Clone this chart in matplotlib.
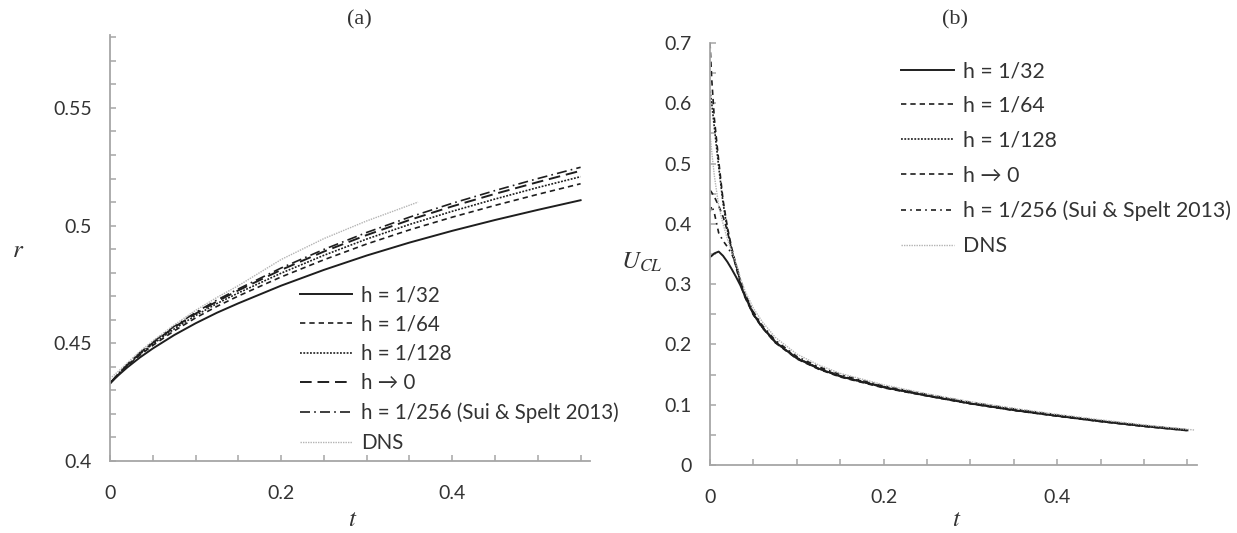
import matplotlib
matplotlib.use("Agg")
import matplotlib.pyplot as plt
import numpy as np

# ---------------- data (a): r(t) ----------------
t_a = [0, 0.01, 0.02, 0.035, 0.05, 0.075, 0.1, 0.125, 0.15, 0.2, 0.25, 0.3, 0.35, 0.4, 0.45, 0.5, 0.55]
r_h32 = [0.433, 0.4365, 0.4397, 0.444, 0.4478, 0.4535, 0.4585, 0.463, 0.467, 0.4745, 0.4812, 0.4873, 0.4928, 0.4978, 0.5024, 0.5067, 0.5108]
r_h64 = [0.433, 0.4368, 0.4403, 0.445, 0.4491, 0.4553, 0.4608, 0.4657, 0.4701, 0.4782, 0.4855, 0.4922, 0.4982, 0.5036, 0.5086, 0.5133, 0.5178]
r_h128 = [0.433, 0.437, 0.4406, 0.4454, 0.4497, 0.4561, 0.4618, 0.4669, 0.4714, 0.4798, 0.4874, 0.4943, 0.5005, 0.5061, 0.5113, 0.5162, 0.5208]
r_h0 = [0.433, 0.4371, 0.4408, 0.4458, 0.4502, 0.4568, 0.4626, 0.4678, 0.4725, 0.4812, 0.489, 0.496, 0.5024, 0.5082, 0.5135, 0.5185, 0.5233]
r_h256 = [0.433, 0.4371, 0.4409, 0.446, 0.4505, 0.4572, 0.4631, 0.4684, 0.4731, 0.482, 0.4899, 0.4971, 0.5036, 0.5095, 0.5149, 0.52, 0.5248]
t_dns_a = [0, 0.01, 0.02, 0.035, 0.05, 0.075, 0.1, 0.125, 0.15, 0.2, 0.25, 0.3, 0.36]
r_dns = [0.435, 0.4382, 0.4416, 0.4466, 0.451, 0.4578, 0.464, 0.4695, 0.4745, 0.4856, 0.4945, 0.5020, 0.510]

# ---------------- data (b): U_CL(t) ----------------
t_b = [0, 0.002, 0.005, 0.01, 0.015, 0.02, 0.025, 0.03, 0.035, 0.04, 0.05, 0.06, 0.075,
       0.1, 0.125, 0.15, 0.2, 0.25, 0.3, 0.35, 0.4, 0.45, 0.5, 0.55]
u_h32 = [0.345, 0.347, 0.351, 0.354, 0.347, 0.337, 0.325, 0.312, 0.298, 0.281, 0.250, 0.229, 0.204,
         0.177, 0.160, 0.147, 0.129, 0.115, 0.102, 0.091, 0.0815, 0.0725, 0.0645, 0.0575]
u_h64 = [0.456, 0.452, 0.445, 0.430, 0.412, 0.388, 0.356, 0.328, 0.301, 0.279, 0.249, 0.228, 0.203,
         0.176, 0.159, 0.146, 0.128, 0.1145, 0.1015, 0.0905, 0.081, 0.072, 0.064, 0.057]
u_h128 = [0.620, 0.600, 0.560, 0.495, 0.435, 0.390, 0.357, 0.330, 0.303, 0.281, 0.250, 0.229, 0.204,
          0.177, 0.160, 0.147, 0.129, 0.115, 0.102, 0.091, 0.0815, 0.0725, 0.0645, 0.0575]
u_h0 = [0.700, 0.640, 0.575, 0.505, 0.440, 0.395, 0.360, 0.332, 0.305, 0.283, 0.252, 0.230, 0.205,
        0.178, 0.161, 0.148, 0.130, 0.116, 0.103, 0.092, 0.082, 0.073, 0.065, 0.058]
u_h256 = [0.420, 0.430, 0.418, 0.385, 0.372, 0.362, 0.350, 0.334, 0.307, 0.285, 0.254, 0.232, 0.207,
          0.180, 0.163, 0.150, 0.131, 0.117, 0.104, 0.093, 0.083, 0.0735, 0.0655, 0.0585]
t_dns_b = [0, 0.002, 0.005, 0.01, 0.015, 0.02, 0.025, 0.03, 0.035, 0.04, 0.05, 0.06, 0.075,
           0.1, 0.125, 0.15, 0.2, 0.25, 0.3, 0.35, 0.4, 0.45, 0.5, 0.558]
u_dns = [0.550, 0.520, 0.480, 0.430, 0.400, 0.375, 0.355, 0.335, 0.310, 0.290, 0.260, 0.238, 0.212,
         0.184, 0.166, 0.152, 0.133, 0.118, 0.105, 0.094, 0.084, 0.075, 0.0665, 0.058]

labels = ["h = 1/32", "h = 1/64", "h = 1/128", "h \u2192 0", "h = 1/256 (Sui & Spelt 2013)", "DNS"]
xticks = [0, 0.2, 0.4]
xtick_labels = ["0", "0.2", "0.4"]
yticks_a = [0.4, 0.45, 0.5, 0.55]
ytick_labels_a = ["0.4", "0.45", "0.5", "0.55"]
yticks_b = [0, 0.1, 0.2, 0.3, 0.4, 0.5, 0.6, 0.7]
ytick_labels_b = ["0", "0.1", "0.2", "0.3", "0.4", "0.5", "0.6", "0.7"]

# ---------------- figure ----------------
W, H = 1237, 533
plt.rcParams["mathtext.fontset"] = "stix"
fig = plt.figure(figsize=(W / 100, H / 100), dpi=100)
FONT = ["Lato", "DejaVu Sans"]
LINE = "#1e1e1e"
SPINE = "#a6a6a6"
TXT = "#333333"

def px(x0, y0, x1, y1):
    return [x0 / W, 1 - y1 / H, (x1 - x0) / W, (y1 - y0) / H]

ax_a = fig.add_axes(px(110, 35, 590, 461))
ax_b = fig.add_axes(px(710, 43, 1197, 465))

ls_h64 = (0, (3.2, 2.4))
ls_h128 = (0, (1.1, 0.9))
ls_dns = (0, (1.0, 0.8))

# (a)
ax_a.plot(t_a, r_h32, color=LINE, lw=1.4, ls="-", label=labels[0])
ax_a.plot(t_a, r_h64, color=LINE, lw=1.2, ls=ls_h64, label=labels[1])
ax_a.plot(t_a, r_h128, color=LINE, lw=1.2, ls=ls_h128, label=labels[2])
ax_a.plot(t_a, r_h0, color=LINE, lw=1.4, ls=(0, (6, 3)), label=labels[3])
ax_a.plot(t_a, r_h256, color=LINE, lw=1.2, ls=(0, (6, 2.5, 1, 2.5)), label=labels[4])
ax_a.plot(t_dns_a, r_dns, color="#b3b3b3", lw=1.0, ls=ls_dns, label=labels[5])

# (b)
ax_b.plot(t_b, u_h32, color=LINE, lw=1.4, ls="-", label=labels[0])
ax_b.plot(t_b, u_h64, color=LINE, lw=1.2, ls=ls_h64, label=labels[1])
ax_b.plot(t_b, u_h128, color=LINE, lw=1.2, ls=ls_h128, label=labels[2])
ax_b.plot(t_b, u_h0, color=LINE, lw=1.2, ls=ls_h64, label=labels[3])
ax_b.plot(t_b, u_h256, color=LINE, lw=1.2, ls=(0, (3, 2.5, 1, 2.5)), label=labels[4])
ax_b.plot(t_dns_b, u_dns, color="#b3b3b3", lw=1.0, ls=ls_dns, label=labels[5])

for ax in (ax_a, ax_b):
    ax.set_xlim(0, 0.561)
    for s in ("top", "right"):
        ax.spines[s].set_visible(False)
    for s in ("left", "bottom"):
        ax.spines[s].set_color(SPINE)
        ax.spines[s].set_linewidth(1.3)
    ax.set_xticks(xticks)
    ax.set_xticklabels(xtick_labels)
    ax.set_xticks(np.arange(0, 0.5501, 0.05), minor=True)
    ax.tick_params(which="both", direction="in", color=SPINE, width=1.1, length=4)
    ax.tick_params(axis="x", which="major", pad=17, labelsize=14, labelcolor=TXT)
    ax.tick_params(axis="y", which="major", pad=13, labelsize=14, labelcolor=TXT)

ax_a.set_ylim(0.4, 0.581)
ax_a.set_yticks(yticks_a)
ax_a.set_yticklabels(ytick_labels_a)
ax_a.set_yticks(np.arange(0.4, 0.5801, 0.01), minor=True)
ax_b.set_ylim(0, 0.7)
ax_b.set_yticks(yticks_b)
ax_b.set_yticklabels(ytick_labels_b)
ax_b.set_yticks(np.arange(0, 0.7001, 0.05), minor=True)
for ax in (ax_a, ax_b):
    for lab in ax.get_xticklabels() + ax.get_yticklabels():
        lab.set_family(FONT)

# legends
leg_a = ax_a.legend(loc="upper left", bbox_to_anchor=(300 / W, 1 - 285 / H), bbox_transform=fig.transFigure,
                    frameon=False, borderpad=0, borderaxespad=0, handlelength=2.55, handletextpad=0.42,
                    labelspacing=0.46, prop={"family": FONT, "size": 14.8})
leg_b = ax_b.legend(loc="upper left", bbox_to_anchor=(901 / W, 1 - 61 / H), bbox_transform=fig.transFigure,
                    frameon=False, borderpad=0, borderaxespad=0, handlelength=2.5, handletextpad=0.4,
                    labelspacing=0.7, prop={"family": FONT, "size": 15.3})
for leg in (leg_a, leg_b):
    for txt in leg.get_texts():
        txt.set_color(TXT)

# titles & axis labels
fig.text(359 / W, 1 - 20 / H, "(a)", ha="center", va="center", fontsize=16, family="Liberation Serif", color=TXT)
fig.text(955 / W, 1 - 20 / H, "(b)", ha="center", va="center", fontsize=16, family="Liberation Serif", color=TXT)
fig.text(18 / W, 1 - 250 / H, "$r$", ha="center", va="center", fontsize=18, color=TXT)
fig.text(353 / W, 1 - 519 / H, "$t$", ha="center", va="center", fontsize=18, color=TXT)
fig.text(957 / W, 1 - 519 / H, "$t$", ha="center", va="center", fontsize=18, color=TXT)
fig.text(642 / W, 1 - 262 / H, "$U_{CL}$", ha="center", va="center", fontsize=18, color=TXT)

fig.savefig("out.png", dpi=100)
